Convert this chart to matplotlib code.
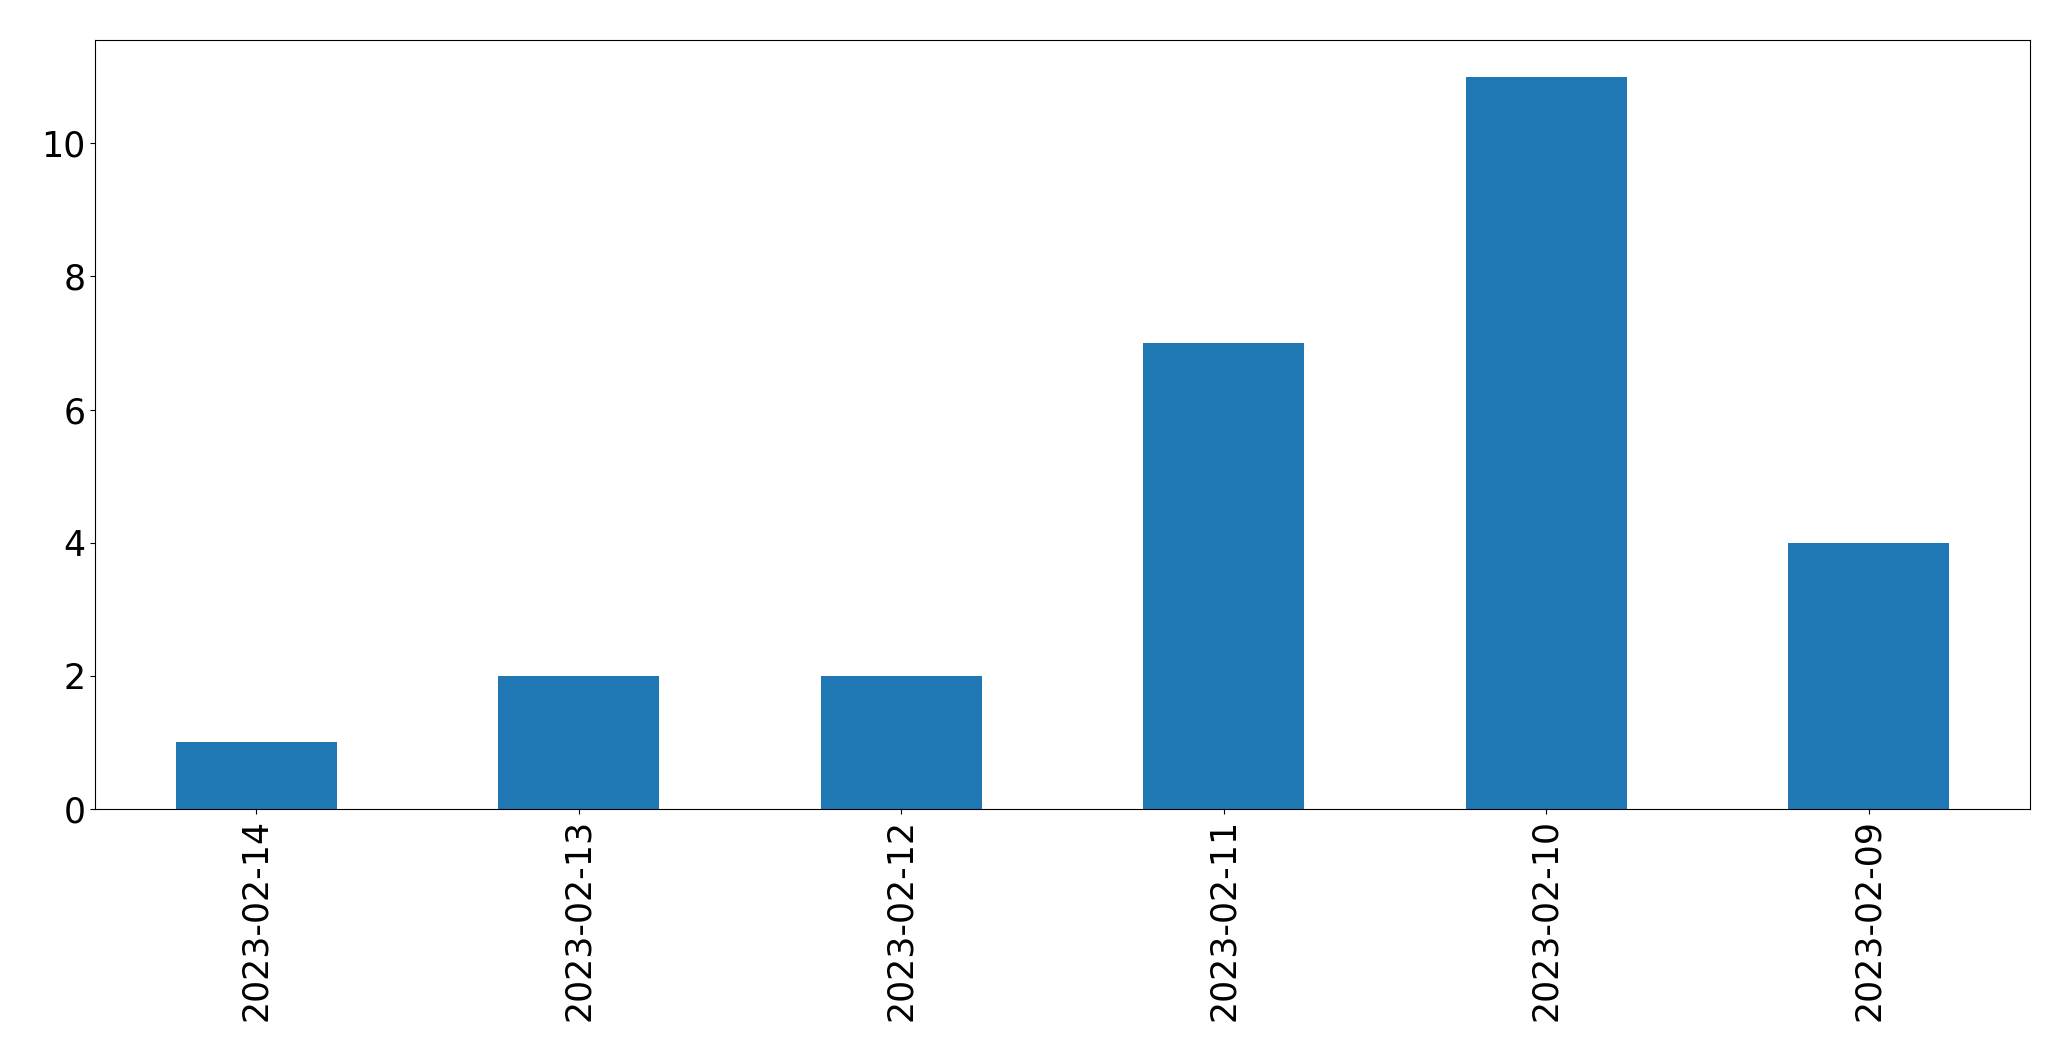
import matplotlib
matplotlib.use("Agg")
import matplotlib.pyplot as plt

dates = ["2023-02-14", "2023-02-13", "2023-02-12", "2023-02-11", "2023-02-10", "2023-02-09"]
counts = [1, 2, 2, 7, 11, 4]

fig = plt.figure(figsize=(20.71, 10.61), dpi=100)
ax = fig.add_axes([95/2071, 1 - 809/1061, (2030-95)/2071, (809-40)/1061])
x = list(range(len(dates)))
ax.bar(x, counts, width=0.5, color="#1f77b4")
ax.set_xlim(-0.5, len(dates) - 0.5)
ax.set_ylim(0, 11.55)
ax.set_xticks(x)
ax.set_xticklabels(dates, rotation=90)
ax.tick_params(axis="both", labelsize=25)
fig.savefig("out.png", dpi=100)
